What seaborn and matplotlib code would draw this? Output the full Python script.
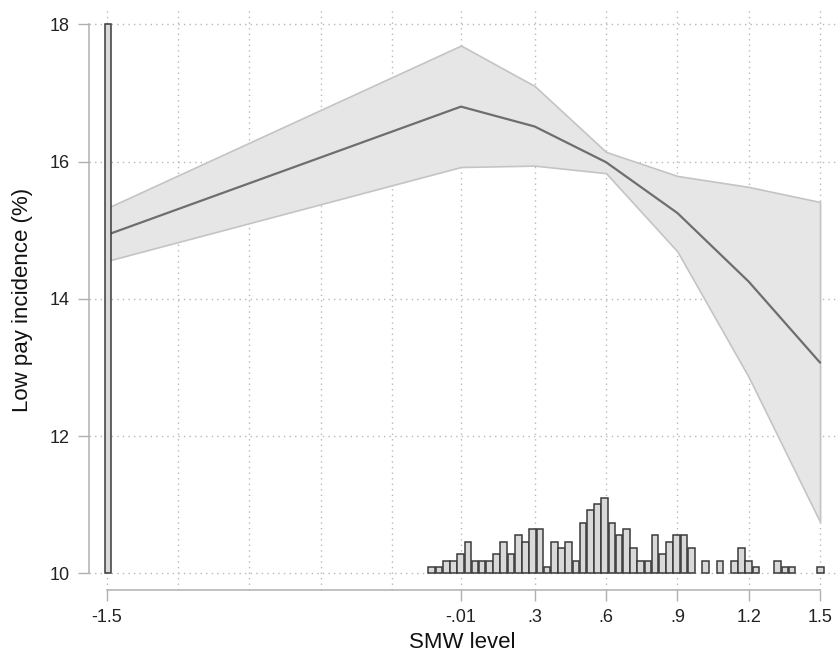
import numpy as np
import matplotlib
matplotlib.use('Agg')
import matplotlib.pyplot as plt
import seaborn as sns


# 估计点（SMW level）及置信区间
smw_x = [-1.5, -0.01, 0.3, 0.6, 0.9, 1.2, 1.5]
lowpay_est = [14.93, 16.80, 16.51, 15.99, 15.25, 14.25, 13.07]
lowpay_hi = [15.32, 17.69, 17.10, 16.14, 15.79, 15.63, 15.41]
lowpay_lo = [14.55, 15.92, 15.94, 15.83, 14.69, 12.86, 10.75]

# 底部直方图：各柱中心位置与频数
hist_pos = [-1.495,
            -0.133, -0.103, -0.072, -0.042, -0.012, 0.019, 0.049, 0.079, 0.109, 0.140,
            0.170, 0.200, 0.231, 0.261, 0.291, 0.322, 0.352, 0.382, 0.412, 0.443,
            0.473, 0.503, 0.534, 0.564, 0.594, 0.625, 0.655, 0.685, 0.715, 0.746,
            0.776, 0.806, 0.837, 0.867, 0.897, 0.928, 0.958,
            1.018, 1.079, 1.140, 1.170, 1.200, 1.231, 1.321, 1.352, 1.382, 1.503]
hist_cnt = [87,
            1, 1, 2, 2, 3, 5, 2, 2, 2, 3,
            5, 3, 6, 5, 7, 7, 1, 5, 4, 5,
            2, 8, 10, 11, 12, 8, 6, 7, 4, 2,
            2, 6, 3, 5, 6, 6, 4,
            2, 2, 2, 4, 2, 1, 2, 1, 1, 1]
hist_unit = 0.092     # 每个频数对应的高度
hist_base = 10

major_ticks = [-1.5, -0.01, 0.3, 0.6, 0.9, 1.2, 1.5]
major_labels = ['-1.5', '-.01', '.3', '.6', '.9', '1.2', '1.5']
minor_ticks = [-1.2, -0.9, -0.6, -0.3]
y_ticks = [10, 12, 14, 16, 18]


sns.set_theme(style='white')
plt.rcParams['font.family'] = ['Liberation Sans', 'DejaVu Sans']

fig = plt.figure(figsize=(8.38, 6.56), dpi=100)
ax = fig.add_axes([0.1062, 0.1006, 0.8914, 0.8842])

# 置信区间 + 估计线
ax.fill_between(smw_x, lowpay_lo, lowpay_hi, facecolor='#e6e6e6',
                edgecolor='#c4c4c4', linewidth=1.2, zorder=2)
sns.lineplot(x=smw_x, y=lowpay_est, color='#6e6e6e', linewidth=1.6, ax=ax, zorder=3)

# 直方图
heights = [c * hist_unit for c in hist_cnt]
ax.bar(hist_pos, heights, width=0.028, bottom=hist_base, color='#d9d9d9',
       edgecolor='#3a3a3a', linewidth=1.1, zorder=4)

ax.set_xlim(-1.5744, 1.567)
ax.set_ylim(9.757, 18.208)
ax.set_xticks(major_ticks)
ax.set_xticklabels(major_labels)
ax.set_xticks(minor_ticks, minor=True)
ax.set_yticks(y_ticks)

ax.grid(True, which='both', linestyle=(0, (1, 3)), color='#b8b8b8', linewidth=1.0, zorder=0)
ax.set_axisbelow(True)

ax.tick_params(axis='both', which='major', length=8, width=1, color='#b0b0b0',
               labelsize=13, labelcolor='#222222', direction='out')
ax.tick_params(axis='x', which='major', pad=6, bottom=True)
ax.tick_params(axis='y', which='major', pad=6, left=True)
ax.tick_params(axis='x', which='minor', length=0, bottom=False)

ax.set_xlabel('SMW level', fontsize=16, color='#111111', labelpad=4)
ax.set_ylabel('Low pay incidence (%)', fontsize=16, color='#111111', labelpad=12)

sns.despine(ax=ax, trim=True)
for side in ['left', 'bottom']:
    ax.spines[side].set_color('#b0b0b0')
    ax.spines[side].set_linewidth(1.1)

fig.savefig('out.png', dpi=100)
